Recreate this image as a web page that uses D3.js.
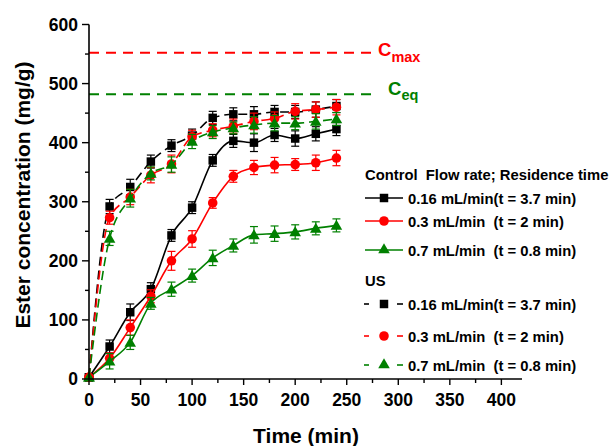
<!DOCTYPE html>
<html><head><meta charset="utf-8">
<script src="https://cdn.jsdelivr.net/npm/d3@7"></script>
<style>body{margin:0;background:#fff}svg{display:block}text{font-family:Arial,"Liberation Sans",sans-serif;font-weight:bold;white-space:pre}</style>
</head><body>
<script>
const time = [0,20,40,60,80,100,120,140,160,180,200,220,240];
const ctrl016 = [3,55,113,152,243,290,370,403,400,413,407,415,423];
const ctrl03  = [3,35,87,140,200,237,298,343,358,362,363,366,374];
const ctrl07  = [3,30,62,128,152,175,205,226,244,246,249,255,260];
const us016   = [3,292,325,368,395,412,442,448,448,452,452,456,462];
const us03    = [3,273,308,345,364,410,421,428,436,441,453,456,460];
const us07    = [3,238,306,348,363,402,418,425,430,433,433,436,440];
const errCtrl016 = [0,11,14,11,10,10,10,11,15,11,13,12,11];
const errCtrl03  = [0,9,13,11,16,14,9,10,12,13,10,13,13];
const errCtrl07  = [0,13,12,10,12,11,13,11,14,13,12,11,11];
const errUs016   = [0,12,13,11,10,11,11,11,13,11,11,13,11];
const errUs03    = [0,11,13,13,15,11,11,12,14,11,13,13,13];
const errUs07    = [0,12,15,11,13,12,11,10,14,13,11,13,11];
const xTicks = [0,50,100,150,200,250,300,350,400];
const yTicks = [0,100,200,300,400,500,600];
const cMax = 552, cEq = 482;
const legendLabels = ["0.16 mL/min(t = 3.7 min)","0.3 mL/min  (t = 2 min)","0.7 mL/min  (t = 0.8 min)"];

const W=616,H=446;
const svg=d3.select("body").append("svg").attr("width",W).attr("height",H);
const x=d3.scaleLinear().domain([0,420]).range([89,522]);
const y=d3.scaleLinear().domain([0,600]).range([379,24.5]);

const series=[
 {v:ctrl016,e:errCtrl016,c:"#000000",m:"square",dash:null},
 {v:ctrl03,e:errCtrl03,c:"#ff0000",m:"circle",dash:null},
 {v:ctrl07,e:errCtrl07,c:"#008000",m:"triangle",dash:null},
 {v:us016,e:errUs016,c:"#000000",m:"square",dash:"9,5"},
 {v:us03,e:errUs03,c:"#ff0000",m:"circle",dash:"9,5"},
 {v:us07,e:errUs07,c:"#008000",m:"triangle",dash:"9,5"}
];
const sym={square:d3.symbol(d3.symbolSquare,72),circle:d3.symbol(d3.symbolCircle,72),triangle:d3.symbol(d3.symbolTriangle,58)};

// reference lines
[[cMax,"#ff0000"],[cEq,"#008000"]].forEach(([v,c])=>{
  svg.append("line").attr("x1",x(0)).attr("x2",372).attr("y1",y(v)).attr("y2",y(v))
   .attr("stroke",c).attr("stroke-width",2).attr("stroke-dasharray","10,7");
});
const t1=svg.append("text").attr("x",378).attr("y",56).attr("fill","#ff0000").attr("font-size",18.5);
t1.append("tspan").text("C");
t1.append("tspan").attr("font-size",14.5).attr("dy",6).text("max");
const t2=svg.append("text").attr("x",388).attr("y",95).attr("fill","#008000").attr("font-size",18.5);
t2.append("tspan").text("C");
t2.append("tspan").attr("font-size",14.5).attr("dy",5).text("eq");

const line=d3.line().x((d,i)=>x(time[i])).y(d=>y(d)).curve(d3.curveMonotoneX);
series.forEach(s=>{
  const g=svg.append("g");
  g.append("path").attr("d",line(s.v)).attr("fill","none").attr("stroke",s.c).attr("stroke-width",1.6)
   .attr("stroke-dasharray",s.dash);
  s.v.forEach((v,i)=>{
    if(s.e[i]>0){
      const xx=x(time[i]);
      g.append("line").attr("x1",xx).attr("x2",xx).attr("y1",y(v-s.e[i])).attr("y2",y(v+s.e[i])).attr("stroke",s.c).attr("stroke-width",1.2);
      [v-s.e[i],v+s.e[i]].forEach(w=>g.append("line").attr("x1",xx-4).attr("x2",xx+4).attr("y1",y(w)).attr("y2",y(w)).attr("stroke",s.c).attr("stroke-width",1.2));
    }
    g.append("path").attr("d",sym[s.m]()).attr("transform",`translate(${x(time[i])},${y(v)+(s.m==="triangle"?1:0)})`).attr("fill",s.c);
  });
});

// axes
const xa=svg.append("g").attr("transform","translate(0,379)");
xa.append("line").attr("x1",89).attr("x2",522).attr("stroke","#000").attr("stroke-width",1.6);
d3.range(0,425,25).forEach(t=>{
  const major=t%50===0;
  xa.append("line").attr("x1",x(t)).attr("x2",x(t)).attr("y1",0).attr("y2",major?6:4).attr("stroke","#000").attr("stroke-width",1.4);
});
xTicks.forEach(t=>xa.append("text").attr("x",x(t)).attr("y",27).attr("text-anchor","middle").attr("font-size",17.5).text(t));
const ya=svg.append("g");
ya.append("line").attr("x1",89).attr("x2",89).attr("y1",y(600)).attr("y2",379).attr("stroke","#000").attr("stroke-width",1.6);
d3.range(0,650,50).forEach(t=>{
  const major=t%100===0;
  ya.append("line").attr("x1",89).attr("x2",89-(major?7:4)).attr("y1",y(t)).attr("y2",y(t)).attr("stroke","#000").attr("stroke-width",1.4);
});
yTicks.forEach(t=>ya.append("text").attr("x",78).attr("y",y(t)+6.2).attr("text-anchor","end").attr("font-size",17.5).text(t));

svg.append("text").attr("x",306).attr("y",443).attr("text-anchor","middle").attr("font-size",21).text("Time (min)");
svg.append("text").attr("transform","translate(30,195) rotate(-90)").attr("text-anchor","middle").attr("font-size",21).text("Ester concentration (mg/g)");

// legend
const lg=svg.append("g");
lg.append("text").attr("x",365).attr("y",180).attr("font-size",14.8).text("Control  Flow rate; Residence time");
lg.append("text").attr("x",365).attr("y",286).attr("font-size",14.8).text("US");
const rowsY=[198,221,250,304,336,365];
series.forEach((s,i)=>{
  const yy=rowsY[i];
  if(!s.dash){
    lg.append("line").attr("x1",365).attr("x2",403).attr("y1",yy).attr("y2",yy).attr("stroke",s.c).attr("stroke-width",1.6);
  } else {
    lg.append("line").attr("x1",364).attr("x2",369).attr("y1",yy).attr("y2",yy).attr("stroke",s.c).attr("stroke-width",1.6);
    lg.append("line").attr("x1",397).attr("x2",403).attr("y1",yy).attr("y2",yy).attr("stroke",s.c).attr("stroke-width",1.6);
  }
  lg.append("path").attr("d",sym[s.m]()).attr("transform",`translate(384,${yy})`).attr("fill",s.c);
  lg.append("text").attr("x",408).attr("y",yy+5.5).attr("font-size",14.8).text(legendLabels[i%3]);
});
</script>
</body></html>
